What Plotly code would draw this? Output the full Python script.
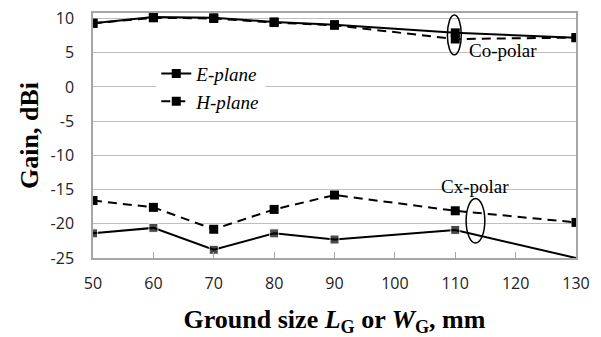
import plotly.graph_objects as go

ground_size = [50, 60, 70, 80, 90, 110, 130]
co_e_plane = [9.3, 10.2, 10.1, 9.5, 9.1, 7.9, 7.2]
co_h_plane = [9.3, 10.1, 10.0, 9.4, 9.0, 7.0, 7.2]
cx_e_plane = [-21.4, -20.6, -23.8, -21.4, -22.3, -20.9, -25.0]
cx_h_plane = [-16.6, -17.6, -20.8, -17.9, -15.8, -18.1, -19.8]
x_ticks = [50, 60, 70, 80, 90, 100, 110, 120, 130]
y_ticks = [-25, -20, -15, -10, -5, 0, 5, 10]
y_tick_labels = [str(v) for v in y_ticks]

serif = "Liberation Serif"
dash = "9px,6px"
msize = 9

fig = go.Figure()
fig.add_trace(go.Scatter(x=ground_size, y=co_e_plane, mode="lines+markers", name="<i>E-plane</i>",
                         line=dict(color="black", width=2), marker=dict(symbol="square", size=msize, color="black")))
fig.add_trace(go.Scatter(x=ground_size, y=co_h_plane, mode="lines+markers", name="<i>H-plane</i>",
                         line=dict(color="black", width=2, dash=dash), marker=dict(symbol="square", size=msize, color="black")))
fig.add_trace(go.Scatter(x=ground_size, y=cx_e_plane, mode="lines+markers", showlegend=False,
                         line=dict(color="black", width=2),
                         marker=dict(symbol="square", size=[msize] * 6 + [0], color="black")))
fig.add_trace(go.Scatter(x=ground_size, y=cx_h_plane, mode="lines+markers", showlegend=False,
                         line=dict(color="black", width=2, dash=dash), marker=dict(symbol="square", size=msize, color="black")))

fig.add_shape(type="circle", xref="x", yref="y", x0=108.7, x1=111.0, y0=4.7, y1=10.5,
              line=dict(color="black", width=1.5))
fig.add_shape(type="circle", xref="x", yref="y", x0=111.8, x1=114.9, y0=-22.8, y1=-16.3,
              line=dict(color="black", width=1.5))
fig.add_annotation(x=117.9, y=5.3, xref="x", yref="y", text="Co-polar", showarrow=False,
                   font=dict(family=serif, size=19, color="black"))
fig.add_annotation(x=113.2, y=-14.5, xref="x", yref="y", text="Cx-polar", showarrow=False,
                   font=dict(family=serif, size=19, color="black"))

fig.update_layout(
    width=601, height=337,
    margin=dict(l=93, r=25, t=7, b=78),
    paper_bgcolor="white", plot_bgcolor="white",
    font=dict(family="Open Sans", size=16, color="#222222"),
    legend=dict(x=0.131, y=0.83, xanchor="left", yanchor="top", bgcolor="white",
                font=dict(family=serif, size=19, color="black"), tracegroupgap=0,
                itemwidth=30),
    xaxis=dict(range=[50, 130], tickvals=x_ticks, showgrid=False, zeroline=False,
               showline=True, linecolor="#a6a6a6", linewidth=1.5, mirror=True,
               ticks="inside", ticklen=6, tickcolor="#a6a6a6", ticklabelstandoff=10,
               title=dict(text="<b>Ground size <i>L</i><sub>G</sub> or <i>W</i><sub>G</sub>, mm</b>",
                          font=dict(family=serif, size=26, color="black"), standoff=18)),
    yaxis=dict(range=[-25, 10.8], tickvals=y_ticks, ticktext=y_tick_labels,
               showgrid=True, gridcolor="#bfbfbf", gridwidth=1.2,
               zeroline=False, showline=True, linecolor="#a6a6a6", linewidth=1.5, mirror=True,
               ticks="", ticklabelstandoff=14,
               title=dict(text="<b>Gain, dBi</b>", font=dict(family=serif, size=26, color="black"), standoff=4)),
)

fig.write_html("out.html")
